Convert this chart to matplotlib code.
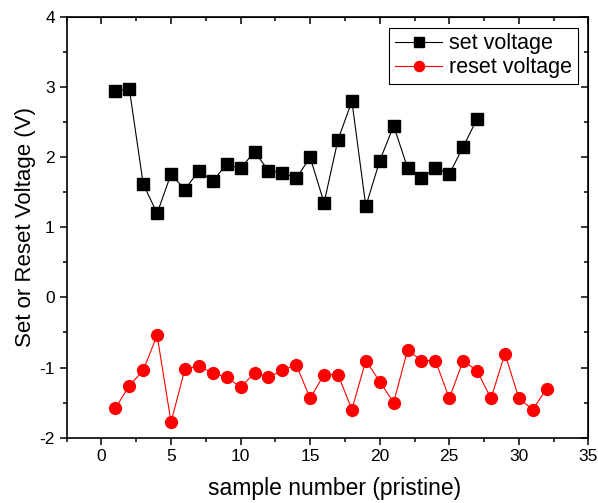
import numpy as np
import matplotlib
matplotlib.use("Agg")
import matplotlib.pyplot as plt
from matplotlib.ticker import MultipleLocator

plt.rcParams['font.family'] = ['Liberation Sans', 'DejaVu Sans']
plt.rcParams['axes.unicode_minus'] = False

set_x = list(range(1, 28))
set_v = [2.94, 2.98, 1.62, 1.20, 1.76, 1.54, 1.81, 1.66, 1.90, 1.84,
         2.08, 1.81, 1.78, 1.70, 2.00, 1.35, 2.25, 2.80, 1.30, 1.95,
         2.45, 1.85, 1.70, 1.85, 1.76, 2.15, 2.55]

reset_x = list(range(1, 33))
reset_v = [-1.58, -1.26, -1.04, -0.54, -1.78, -1.02, -0.98, -1.08, -1.14, -1.28,
           -1.08, -1.14, -1.04, -0.96, -1.44, -1.10, -1.10, -1.60, -0.90, -1.20,
           -1.50, -0.75, -0.90, -0.90, -1.44, -0.90, -1.05, -1.44, -0.80, -1.44,
           -1.60, -1.30]

fig = plt.figure(figsize=(5.98, 5.03), dpi=100)
ax = fig.add_axes([0.1115, 0.130, 0.8725, 0.836])

ax.plot(set_x, set_v, '-s', color='black', lw=0.8, ms=8.5, label='set voltage')
ax.plot(reset_x, reset_v, '-o', color='red', lw=0.8, ms=8.5, label='reset voltage')

ax.set_xlim(-2.5, 35)
ax.set_ylim(-2, 4)
ax.xaxis.set_major_locator(MultipleLocator(5))
ax.xaxis.set_minor_locator(MultipleLocator(2.5))
ax.yaxis.set_major_locator(MultipleLocator(1))
ax.yaxis.set_minor_locator(MultipleLocator(0.5))

for s in ax.spines.values():
    s.set_linewidth(1.2)

ax.tick_params(which='both', direction='out', width=1.1, labelsize=12.5)
ax.tick_params(which='major', length=5)
ax.tick_params(which='minor', length=3)

# mirrored ticks pointing inward on top and right
top = ax.secondary_xaxis('top')
top.xaxis.set_major_locator(MultipleLocator(5))
top.xaxis.set_minor_locator(MultipleLocator(2.5))
top.tick_params(which='both', direction='in', width=1.1, labeltop=False)
top.tick_params(which='major', length=5)
top.tick_params(which='minor', length=3)
right = ax.secondary_yaxis('right')
right.yaxis.set_major_locator(MultipleLocator(1))
right.yaxis.set_minor_locator(MultipleLocator(0.5))
right.tick_params(which='both', direction='in', width=1.1, labelright=False)
right.tick_params(which='major', length=5)
right.tick_params(which='minor', length=3)

ax.set_xlabel('sample number (pristine)', fontsize=16.5, labelpad=9)
ax.xaxis.label.set_x(0.513)
ax.set_ylabel('Set or Reset Voltage (V)', fontsize=16)
ax.yaxis.set_label_coords(-0.059, 0.5)

ax.legend(loc='upper right', fontsize=15.5, frameon=True, fancybox=False,
          edgecolor='black', framealpha=1, borderpad=0.25, handlelength=2.2,
          handletextpad=0.33, labelspacing=0.15, borderaxespad=0.5,
          markerscale=0.85)
ax.get_legend().get_frame().set_linewidth(0.8)

fig.savefig('out.png', dpi=100)
